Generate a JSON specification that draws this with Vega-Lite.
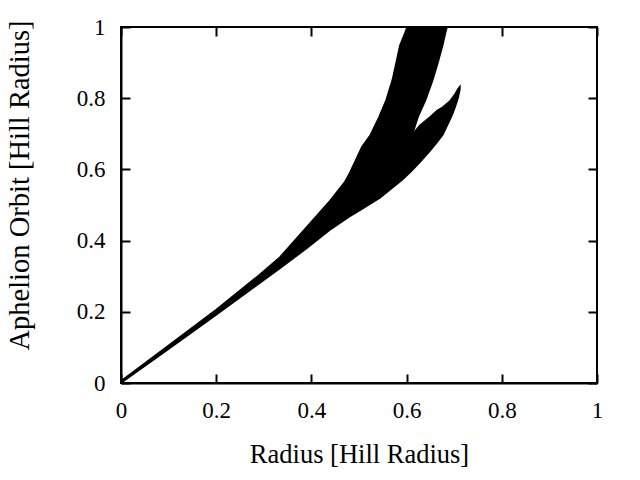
{
  "$schema": "https://vega.github.io/schema/vega-lite/v6.json",
  "width": 476,
  "height": 356,
  "autosize": {"type": "none"},
  "padding": {"left": 121, "top": 27, "right": 43, "bottom": 97},
  "background": "white",
  "config": {
    "view": {"stroke": "black", "strokeWidth": 2},
    "axis": {
      "grid": false,
      "domainColor": "black",
      "domainWidth": 2,
      "tickColor": "black",
      "tickWidth": 2,
      "tickSize": -9,
      "labelColor": "black",
      "titleColor": "black",
      "labelFlush": false,
      "labelOverlap": false
    }
  },
  "datasets": {
    "band": [
      {"r": 0.000, "lo": 0.000, "hi": 0.006},
      {"r": 0.100, "lo": 0.095, "hi": 0.106},
      {"r": 0.200, "lo": 0.191, "hi": 0.206},
      {"r": 0.290, "lo": 0.279, "hi": 0.303},
      {"r": 0.334, "lo": 0.322, "hi": 0.354},
      {"r": 0.390, "lo": 0.378, "hi": 0.438},
      {"r": 0.439, "lo": 0.430, "hi": 0.512},
      {"r": 0.470, "lo": 0.458, "hi": 0.565},
      {"r": 0.481, "lo": 0.468, "hi": 0.590},
      {"r": 0.508, "lo": 0.490, "hi": 0.663},
      {"r": 0.544, "lo": 0.520, "hi": 0.700},
      {"r": 0.592, "lo": 0.572, "hi": 0.700},
      {"r": 0.611, "lo": 0.596, "hi": 0.697},
      {"r": 0.628, "lo": 0.620, "hi": 0.724},
      {"r": 0.649, "lo": 0.652, "hi": 0.747},
      {"r": 0.664, "lo": 0.676, "hi": 0.765},
      {"r": 0.676, "lo": 0.697, "hi": 0.775},
      {"r": 0.691, "lo": 0.739, "hi": 0.792},
      {"r": 0.697, "lo": 0.757, "hi": 0.803},
      {"r": 0.702, "lo": 0.775, "hi": 0.812},
      {"r": 0.708, "lo": 0.800, "hi": 0.826},
      {"r": 0.712, "lo": 0.825, "hi": 0.833}
    ],
    "arm": [
      {"a": 0.560, "xl": 0.470, "xr": 0.560},
      {"a": 0.600, "xl": 0.484, "xr": 0.600},
      {"a": 0.663, "xl": 0.506, "xr": 0.611},
      {"a": 0.697, "xl": 0.524, "xr": 0.612},
      {"a": 0.747, "xl": 0.542, "xr": 0.624},
      {"a": 0.795, "xl": 0.557, "xr": 0.640},
      {"a": 0.851, "xl": 0.570, "xr": 0.655},
      {"a": 0.900, "xl": 0.578, "xr": 0.666},
      {"a": 0.949, "xl": 0.586, "xr": 0.676},
      {"a": 0.985, "xl": 0.597, "xr": 0.682},
      {"a": 1.000, "xl": 0.601, "xr": 0.685}
    ]
  },
  "layer": [
    {
      "data": {"name": "band"},
      "mark": {"type": "area", "orient": "vertical", "color": "black", "stroke": "black", "strokeWidth": 1.5, "clip": true},
      "encoding": {
        "x": {"field": "r", "type": "quantitative", "scale": {"domain": [0, 1], "nice": false, "zero": false},
              "axis": {"orient": "bottom", "values": [0, 0.2, 0.4, 0.6, 0.8, 1], "format": ".1~f",
                       "labelFont": "Liberation Serif", "labelFontSize": 23, "labelFontWeight": "normal", "labelPadding": 25, "tickSize": -9,
                       "title": "Radius [Hill Radius]", "titleFont": "Liberation Serif", "titleFontSize": 26.5, "titleFontWeight": "normal",
                       "titleBaseline": "alphabetic", "titleY": 79}},
        "y": {"field": "lo", "type": "quantitative", "scale": {"domain": [0, 1], "nice": false, "zero": false},
              "axis": {"orient": "left", "values": [0, 0.2, 0.4, 0.6, 0.8, 1], "format": ".1~f",
                       "labelFont": "Liberation Serif", "labelFontSize": 23, "labelFontWeight": "normal", "labelPadding": 25, "tickSize": -9,
                       "title": "Aphelion Orbit [Hill Radius]", "titleFont": "Liberation Serif", "titleFontSize": 28.5, "titleFontWeight": "normal",
                       "titleAngle": 270, "titleAlign": "center", "titleBaseline": "alphabetic", "titleX": -93, "titleY": 158}},
        "y2": {"field": "hi"}
      }
    },
    {
      "data": {"name": "arm"},
      "mark": {"type": "area", "orient": "horizontal", "color": "black", "stroke": "black", "strokeWidth": 1.5, "clip": true},
      "encoding": {
        "y": {"field": "a", "type": "quantitative", "scale": {"domain": [0, 1], "nice": false, "zero": false}, "axis": null},
        "x": {"field": "xl", "type": "quantitative", "scale": {"domain": [0, 1], "nice": false, "zero": false}, "axis": null},
        "x2": {"field": "xr"}
      }
    },
    {
      "data": {"name": "band"},
      "mark": {"type": "point", "opacity": 0},
      "encoding": {
        "x": {"field": "r", "type": "quantitative", "scale": {"domain": [0, 1], "nice": false, "zero": false},
              "axis": {"orient": "top", "values": [0, 0.2, 0.4, 0.6, 0.8, 1], "tickSize": -9, "labels": false, "title": null, "domain": false}},
        "y": {"field": "lo", "type": "quantitative", "scale": {"domain": [0, 1], "nice": false, "zero": false},
              "axis": {"orient": "right", "values": [0, 0.2, 0.4, 0.6, 0.8, 1], "tickSize": -9, "labels": false, "title": null, "domain": false}}
      }
    }
  ],
  "resolve": {"axis": {"x": "independent", "y": "independent"}}
}
